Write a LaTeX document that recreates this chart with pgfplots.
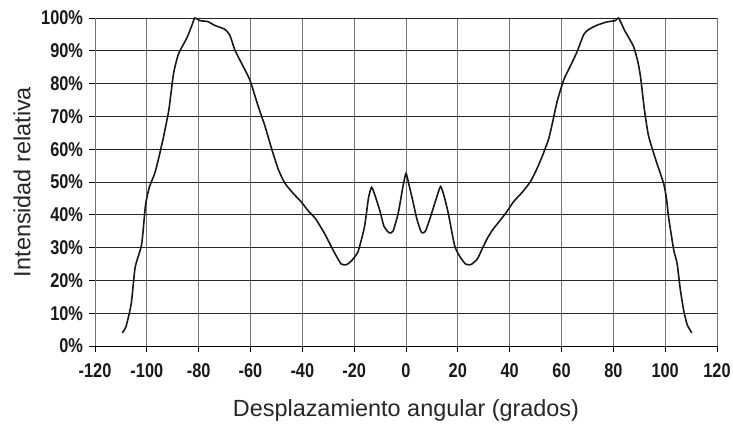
\documentclass[border=0pt]{standalone}
\usepackage{fontspec}
\setmainfont{Liberation Sans}
\newfontfamily\tickfont[FakeStretch=0.82]{Liberation Sans}
\usepackage{pgfplots}
\pgfplotsset{compat=1.18}

\begin{document}
\begin{tikzpicture}
\begin{axis}[
  scale only axis, width=622bp, height=328bp,
  xmin=-120, xmax=120, ymin=0, ymax=100,
  xtick={-120,-100,...,120},
  ytick={0,10,...,100},
  xticklabels={-120,-100,-80,-60,-40,-20,0,20,40,60,80,100,120},
  yticklabels={0\%,10\%,20\%,30\%,40\%,50\%,60\%,70\%,80\%,90\%,100\%},
  tick label style={font=\tickfont\bfseries\fontsize{20}{22}\selectfont, text=black!90},
  xticklabel style={yshift=-9bp},
  yticklabel style={xshift=-3bp},
  axis x line*=bottom, axis y line*=left,
  x axis line style={black, line width=0.9bp, -},
  y axis line style={black!55, line width=0.9bp, -},
  tick align=outside, major tick length=5.5bp,
  tick style={black, line width=0.8bp},
  grid=major,
  x grid style={black!55, line width=0.9bp},
  y grid style={black!85, line width=0.9bp},
  xlabel={Desplazamiento angular (grados)},
  ylabel={Intensidad relativa},
  label style={font=\fontsize{23.5}{26}\selectfont, text=black!85},
  xlabel style={at={(axis description cs:0.5,0)}, anchor=center, yshift=-64bp},
  ylabel style={at={(axis description cs:0,0.5)}, anchor=center, yshift=73bp},
  clip=false,
]
\addplot[black!90, line width=1.6bp, smooth, tension=0.35] coordinates {
  (-109.5,4) (-108,6) (-106,13) (-104.5,24) (-102,31) (-100.5,43)
  (-99,48.5) (-97,52.5) (-95.5,57) (-93.5,64) (-91.5,72) (-89.7,83)
  (-87.8,89) (-84.5,94) (-82.5,98) (-81.5,100) (-79.5,99.2) (-76.5,98.9)
  (-73.7,97.7) (-70,96.6) (-68,94.8) (-66,90.2) (-63,85.5) (-60.2,81)
  (-57,73) (-54.4,67) (-51.8,60) (-49.2,53.7) (-46.7,49.6) (-43.5,46.5)
  (-40.5,44) (-37.5,41) (-35,38.9) (-31.5,34.4) (-27.5,28.3) (-25,25)
  (-23,24.8) (-21,26) (-18.5,28.8) (-16,36.4) (-14.5,45) (-13.3,48.4)
  (-12,46) (-10,41) (-8.5,36.5) (-6.5,34.5) (-5,35) (-3,40.5)
  (-1.2,48.5) (0,52.6) (1.2,49) (2.4,45) (4.3,38.4) (6,34.6) (7.5,35)
  (9.5,39.5) (11.5,44.5) (13.3,48.6) (14.6,46) (16.3,40.5) (18.8,30.5)
  (21,27) (23,25) (25,24.8) (27.5,26.5) (29.5,29.8) (31.5,33)
  (33.5,35.5) (36.5,38.5) (38.5,40.5) (41.5,44) (45,47) (48,50.1)
  (50.5,54) (52.5,57.7) (55,63) (56.5,68) (58.3,74.5) (60.8,81)
  (63.5,85.5) (66,89.7) (68.6,95) (70.5,96.5) (73.7,97.8) (77.5,98.8)
  (80.8,99.2) (82,100) (84.5,96) (87.8,91.3) (89.5,86.5) (90.5,82)
  (92,72) (93.6,64) (96.8,55.7) (99.4,49.6) (100.5,45) (101.3,39.4)
  (103.3,29.3) (104.6,25.2) (105.8,17.5) (107.1,11) (108.5,6.5) (110.3,4)
};
\end{axis}
\pgfresetboundingbox
\path (-95bp,-80bp) rectangle (638bp,346bp);
\end{tikzpicture}
\end{document}
